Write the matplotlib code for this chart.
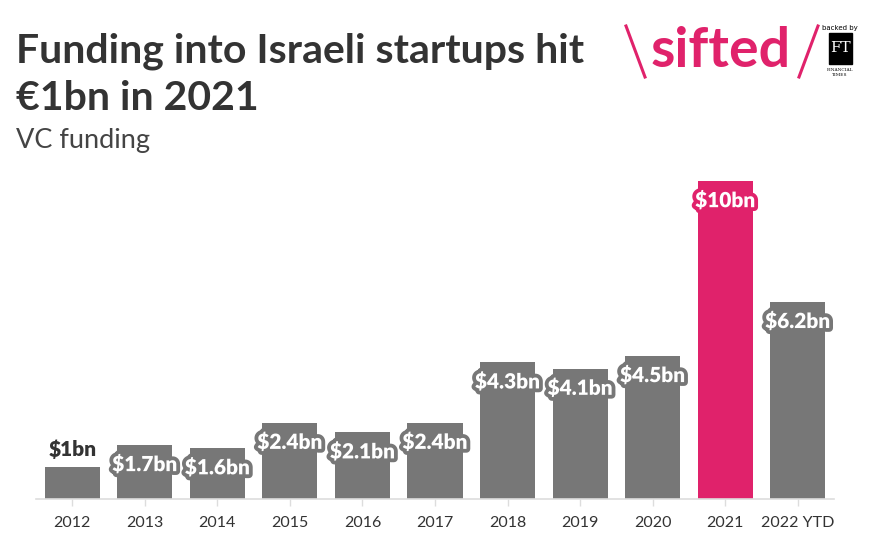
import matplotlib
matplotlib.use("Agg")
import matplotlib.pyplot as plt
import matplotlib.patheffects as pe
from matplotlib.patches import Rectangle
from matplotlib.lines import Line2D

years = ["2012", "2013", "2014", "2015", "2016", "2017", "2018", "2019", "2020", "2021", "2022 YTD"]
values = [1.0, 1.7, 1.6, 2.4, 2.1, 2.4, 4.3, 4.1, 4.5, 10.0, 6.2]
labels = ["$1bn", "$1.7bn", "$1.6bn", "$2.4bn", "$2.1bn", "$2.4bn", "$4.3bn", "$4.1bn", "$4.5bn", "$10bn", "$6.2bn"]
highlight = "2021"

GRAY = "#777777"
PINK = "#e0226b"
DARK = "#333333"
FONT = "Lato"

W, H = 885, 556
fig = plt.figure(figsize=(W / 100, H / 100), dpi=100)
fig.patch.set_facecolor("white")

def fx(px):
    return px / W

def fy(py):
    return 1 - py / H

ax = fig.add_axes([fx(36), fy(499), fx(834) - fx(36), fy(181) - fy(499)])
x = list(range(len(years)))
colors = [PINK if y == highlight else GRAY for y in years]
ax.bar(x, values, width=0.76, color=colors, zorder=2)
ax.set_xlim(-0.5, len(years) - 0.5)
ax.set_ylim(0, 10)
ax.set_xticks(x)
ax.set_xticklabels(years, fontsize=11.5, color=DARK, family=FONT)
ax.tick_params(axis="x", length=5, color="#dddddd", width=1, pad=7)
ax.set_yticks([])
for s in ["top", "right", "left"]:
    ax.spines[s].set_visible(False)
ax.spines["bottom"].set_color("#dddddd")
ax.spines["bottom"].set_linewidth(1.2)

for xi, v, lab, c in zip(x, values, labels, colors):
    if v < 1.5:
        ax.annotate(lab, (xi, v), xytext=(0, 13), textcoords="offset points",
                    ha="center", va="center", fontsize=15, fontweight="heavy",
                    color=DARK, family=FONT)
    else:
        ax.annotate(lab, (xi, v), xytext=(0, -14), textcoords="offset points",
                    ha="center", va="center", fontsize=15, fontweight="heavy",
                    color="white", family=FONT,
                    path_effects=[pe.withStroke(linewidth=5.5, foreground=c)], zorder=5)

# Title and subtitle
fig.text(fx(16), fy(62), "Funding into Israeli startups hit", fontsize=29.5, fontweight="bold",
         color=DARK, family=FONT, va="baseline", ha="left")
fig.text(fx(16), fy(110), "€1bn in 2021", fontsize=29.5, fontweight="bold",
         color=DARK, family=FONT, va="baseline", ha="left")
fig.text(fx(16), fy(148), "VC funding", fontsize=19.5, color="#444444", family=FONT,
         va="baseline", ha="left")

# Logo
fig.add_artist(Line2D([fx(626), fx(645)], [fy(26), fy(77)], color=PINK, lw=2.2))
fig.text(fx(721), fy(67), "sifted", fontsize=40, fontweight="bold", color=PINK,
         family=FONT, ha="center", va="baseline")
fig.add_artist(Line2D([fx(818), fx(799)], [fy(26), fy(77)], color=PINK, lw=2.2))
fig.text(fx(840), fy(30), "backed by", fontsize=5, color="black", ha="center",
         va="baseline", family="DejaVu Sans")
fig.add_artist(Rectangle((fx(829), fy(64)), fx(23), fy(33) - fy(64), color="black",
                         transform=fig.transFigure))
fig.text(fx(840.5), fy(48.5), "FT", fontsize=11, color="white", ha="center", va="center",
         family="DejaVu Serif")
fig.text(fx(840), fy(71), "FINANCIAL", fontsize=3.2, color="black", ha="center",
         va="baseline", family="DejaVu Serif")
fig.text(fx(840), fy(76), "TIMES", fontsize=3.2, color="black", ha="center",
         va="baseline", family="DejaVu Serif")

fig.savefig("out.png", dpi=100, facecolor="white")
